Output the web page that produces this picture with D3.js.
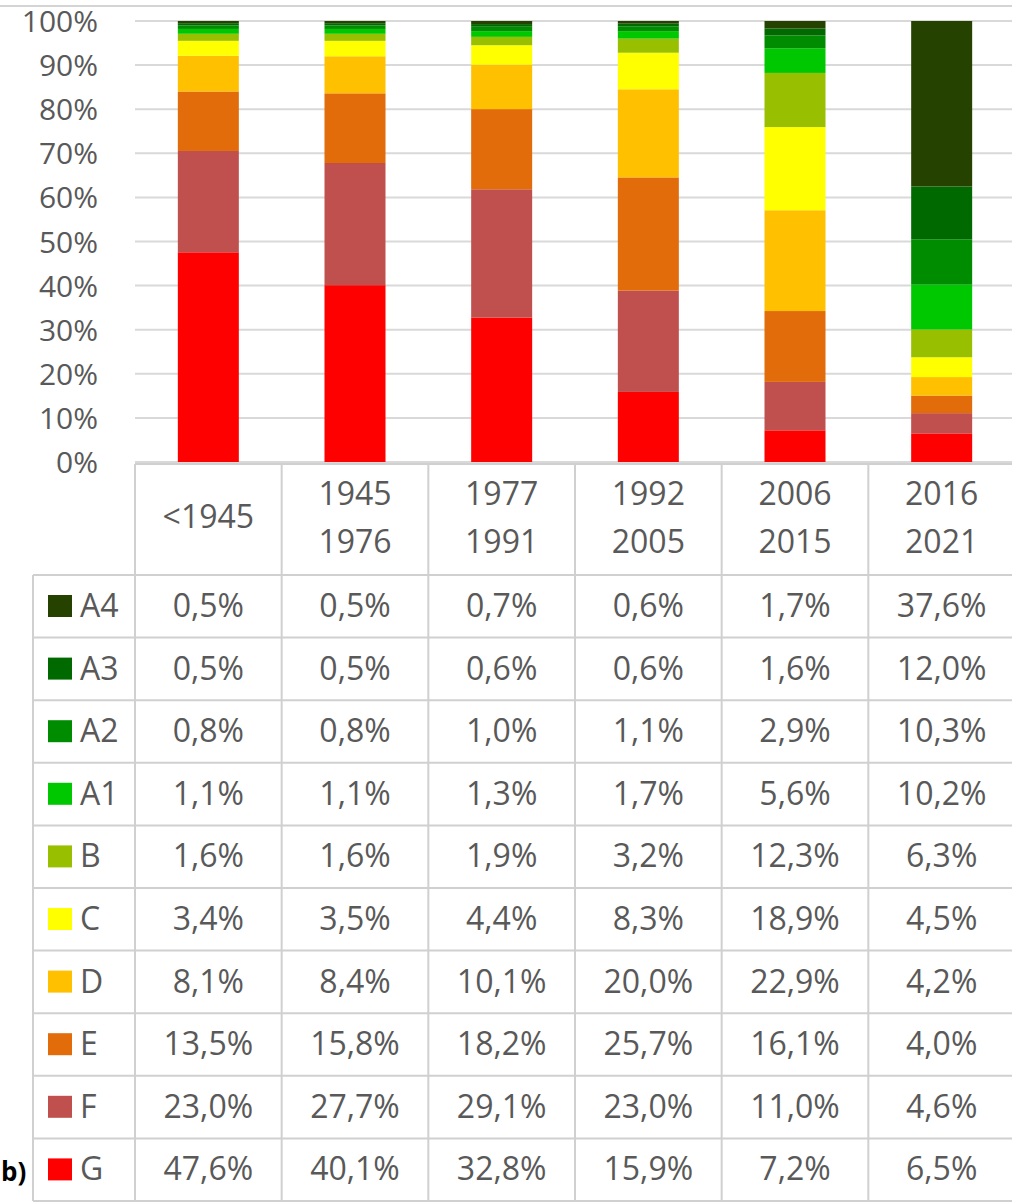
<!DOCTYPE html>
<html>
<head>
<meta charset="utf-8">
<script src="https://cdn.jsdelivr.net/npm/d3@7"></script>
<style>
body{margin:0;background:#fff;}
svg{display:block;font-family:"Open Sans",sans-serif;}
.tick-label{fill:#595959;font-size:30px;}
.cell{fill:#595959;font-size:32px;}
</style>
</head>
<body>
<svg id="chart"></svg>
<script>
var periods=["<1945","1945-1976","1977-1991","1992-2005","2006-2015","2016-2021"]
var periodLines=[["<1945"],["1945","1976"],["1977","1991"],["1992","2005"],["2006","2015"],["2016","2021"]]
// table order, top row first
var classes=["A4","A3","A2","A1","B","C","D","E","F","G"]
var classColors=["#264200","#006a00","#008c00","#00c800","#99c000","#ffff00","#ffc000","#e26b0a","#c0504d","#ff0000"]
var vA4=[0.5,0.5,0.7,0.6,1.7,37.6]
var vA3=[0.5,0.5,0.6,0.6,1.6,12.0]
var vA2=[0.8,0.8,1.0,1.1,2.9,10.3]
var vA1=[1.1,1.1,1.3,1.7,5.6,10.2]
var vB=[1.6,1.6,1.9,3.2,12.3,6.3]
var vC=[3.4,3.5,4.4,8.3,18.9,4.5]
var vD=[8.1,8.4,10.1,20.0,22.9,4.2]
var vE=[13.5,15.8,18.2,25.7,16.1,4.0]
var vF=[23.0,27.7,29.1,23.0,11.0,4.6]
var vG=[47.6,40.1,32.8,15.9,7.2,6.5]
var yTicks=[0,10,20,30,40,50,60,70,80,90,100]

var seriesValues=[vA4,vA3,vA2,vA1,vB,vC,vD,vE,vF,vG]

var initChart=function()
    {
        var screen={width:1012,height:1204}
        var plot={left:135,right:1015,top:21,bottom:462}
        var table={legendLeft:33,headerBottom:575,rowHeight:62.6}

        var svg=d3.select("#chart")
            .attr("width",screen.width)
            .attr("height",screen.height)

        var rows=periods.map(function(p,i)
            {
                var r={period:p}
                classes.forEach(function(c,k){r[c]=seriesValues[k][i]})
                return r
            })

        var xScale=d3.scaleBand()
            .domain(periods)
            .range([plot.left,plot.right])
            .paddingInner(0)
        var yScale=d3.scaleLinear()
            .domain([0,1])
            .range([plot.bottom,plot.top])

        drawGrid(svg,plot,yScale,screen)
        drawBars(svg,rows,xScale,yScale)
        drawTable(svg,plot,table,xScale,screen)
    }

var drawGrid=function(svg,plot,yScale,screen)
    {
        svg.append("line")
            .attr("x1",0).attr("x2",screen.width)
            .attr("y1",6).attr("y2",6)
            .attr("stroke","#d4d4d4").attr("stroke-width",2)
        var g=svg.append("g")
        g.selectAll("line")
            .data(yTicks)
            .enter()
            .append("line")
            .attr("x1",plot.left)
            .attr("x2",screen.width)
            .attr("y1",function(t){return yScale(t/100)})
            .attr("y2",function(t){return yScale(t/100)})
            .attr("stroke","#d9d9d9")
            .attr("stroke-width",2)
        g.selectAll("text")
            .data(yTicks)
            .enter()
            .append("text")
            .classed("tick-label",true)
            .attr("x",98)
            .attr("y",function(t){return yScale(t/100)+11})
            .attr("text-anchor","end")
            .text(function(t){return t+"%"})
    }

var drawBars=function(svg,rows,xScale,yScale)
    {
        var stackKeys=classes.slice().reverse()
        var stack=d3.stack()
            .keys(stackKeys)
            .offset(d3.stackOffsetExpand)
        var layers=stack(rows)
        var barW=61
        svg.append("g")
            .selectAll("g")
            .data(layers)
            .enter()
            .append("g")
            .attr("fill",function(layer){return classColors[classes.indexOf(layer.key)]})
            .selectAll("rect")
            .data(function(layer){return layer})
            .enter()
            .append("rect")
            .attr("x",function(d){return xScale(d.data.period)+xScale.bandwidth()/2-barW/2})
            .attr("width",barW)
            .attr("y",function(d){return yScale(d[1])})
            .attr("height",function(d){return yScale(d[0])-yScale(d[1])})
    }

var drawTable=function(svg,plot,table,xScale,screen)
    {
        var g=svg.append("g")
        var lineColor="#d0d0d0"
        var bottom=table.headerBottom+table.rowHeight*classes.length
        // header border
        g.append("line")
            .attr("x1",plot.left).attr("x2",screen.width)
            .attr("y1",plot.bottom+2).attr("y2",plot.bottom+2)
            .attr("stroke",lineColor).attr("stroke-width",2)
        // row borders
        d3.range(classes.length+1).forEach(function(i)
            {
                var y=table.headerBottom+i*table.rowHeight
                g.append("line")
                    .attr("x1",table.legendLeft).attr("x2",screen.width)
                    .attr("y1",y).attr("y2",y)
                    .attr("stroke",lineColor).attr("stroke-width",2)
            })
        // column borders
        g.append("line")
            .attr("x1",table.legendLeft).attr("x2",table.legendLeft)
            .attr("y1",table.headerBottom).attr("y2",bottom)
            .attr("stroke",lineColor).attr("stroke-width",2)
        periods.forEach(function(p)
            {
                var x=xScale(p)
                g.append("line")
                    .attr("x1",x).attr("x2",x)
                    .attr("y1",plot.bottom+2).attr("y2",bottom)
                    .attr("stroke",lineColor).attr("stroke-width",2)
            })
        // header labels
        periods.forEach(function(p,i)
            {
                var cx=xScale(p)+xScale.bandwidth()/2
                var lines=periodLines[i]
                var t=g.append("text")
                    .classed("cell",true)
                    .attr("text-anchor","middle")
                if(lines.length==1)
                    {
                        t.append("tspan").attr("x",cx).attr("y",528).text(lines[0])
                    }
                else
                    {
                        t.append("tspan").attr("x",cx).attr("y",505).text(lines[0])
                        t.append("tspan").attr("x",cx).attr("y",553).text(lines[1])
                    }
            })
        // rows
        classes.forEach(function(c,k)
            {
                var top=table.headerBottom+k*table.rowHeight
                g.append("rect")
                    .attr("x",48).attr("y",top+20)
                    .attr("width",24).attr("height",22)
                    .attr("fill",classColors[k])
                g.append("text")
                    .classed("cell",true)
                    .attr("x",80).attr("y",top+42)
                    .text(c)
                seriesValues[k].forEach(function(v,i)
                    {
                        g.append("text")
                            .classed("cell",true)
                            .attr("text-anchor","middle")
                            .attr("x",xScale(periods[i])+xScale.bandwidth()/2)
                            .attr("y",top+42)
                            .text(v.toFixed(1).replace(".",",")+"%")
                    })
            })
        svg.append("text")
            .attr("x",1).attr("y",1181)
            .attr("font-size",26)
            .attr("font-weight","bold")
            .attr("fill","#000")
            .text("b)")
    }

initChart()
</script>
</body>
</html>
